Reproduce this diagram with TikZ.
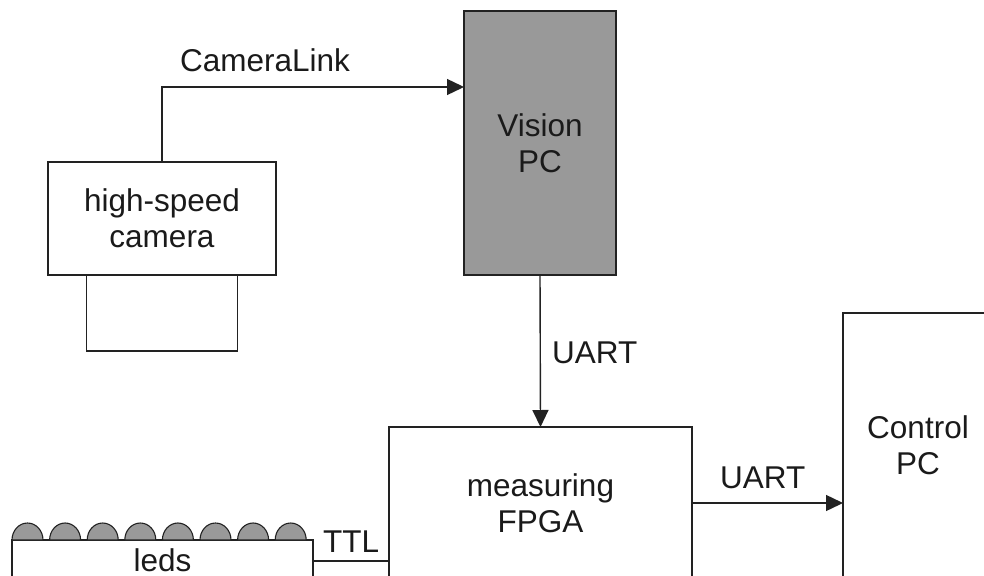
\documentclass[tikz,border=0pt]{standalone}
\usepackage{fontspec}
\setmainfont{Liberation Sans}
\usetikzlibrary{arrows.meta}
\definecolor{ln}{HTML}{222222}
\definecolor{tx}{HTML}{1A1A1A}
\definecolor{boxgray}{HTML}{999999}
\tikzset{
  blk/.style={draw=ln, line width=1.4pt, inner sep=0pt, outer sep=0pt, align=center, text=tx,
              font=\fontsize{31.5}{36}\selectfont},
  lbl/.style={inner sep=0pt, text=tx, font=\fontsize{31.5}{36}\selectfont},
  conn/.style={draw=ln, line width=1.4pt},
  arr/.style={conn, -{Triangle[length=17pt,width=16pt]}},
  dome/.style={draw=ln, line width=1.1pt, fill=boxgray}
}
\begin{document}
\begin{tikzpicture}[x=1pt,y=-1pt]
\useasboundingbox (0,0) rectangle (984,575);
% boxes
\node[blk, minimum width=228pt, minimum height=113pt] (cam) at (162,218.5) {high-speed\\camera};
\node[blk, minimum width=151pt, minimum height=76pt, anchor=north] (lens) at (cam.south) {};
\node[blk, fill=boxgray, minimum width=152pt, minimum height=264pt] (vision) at (540,143) {Vision\\PC};
\node[blk, minimum width=303pt, minimum height=152pt] (fpga) at (540.5,503) {measuring\\FPGA};
\node[blk, minimum width=150pt, minimum height=264pt] (control) at (918,445) {Control\\PC};
\node[blk, minimum width=301pt, minimum height=40pt] (leds) at (162.5,560) {leds};
% domes
\foreach \i in {0,...,7}{
  \path[dome] ({12+37.6*\i},540) arc[start angle=180, end angle=0, x radius=15.5pt, y radius=17pt] -- cycle;
}
% connectors
\draw[arr] (cam.north) |- ([yshift=56pt]vision.west);
\draw[arr] (vision.south) -- (fpga.north);
\draw[arr] (fpga.east) -- (fpga.east -| control.west);
\draw[conn] ([yshift=-1pt]leds.east) -- ([yshift=-1pt]leds.east -| fpga.west);
% labels
\node[lbl, anchor=base west] (lcl) at (180,72) {CameraLink};
\node[lbl, anchor=base west] (luart1) at (552,363) {UART};
\node[lbl, anchor=base west] (luart2) at (720,488) {UART};
\node[lbl, anchor=base west] (lttl) at (323,552) {TTL};
\end{tikzpicture}
\end{document}
